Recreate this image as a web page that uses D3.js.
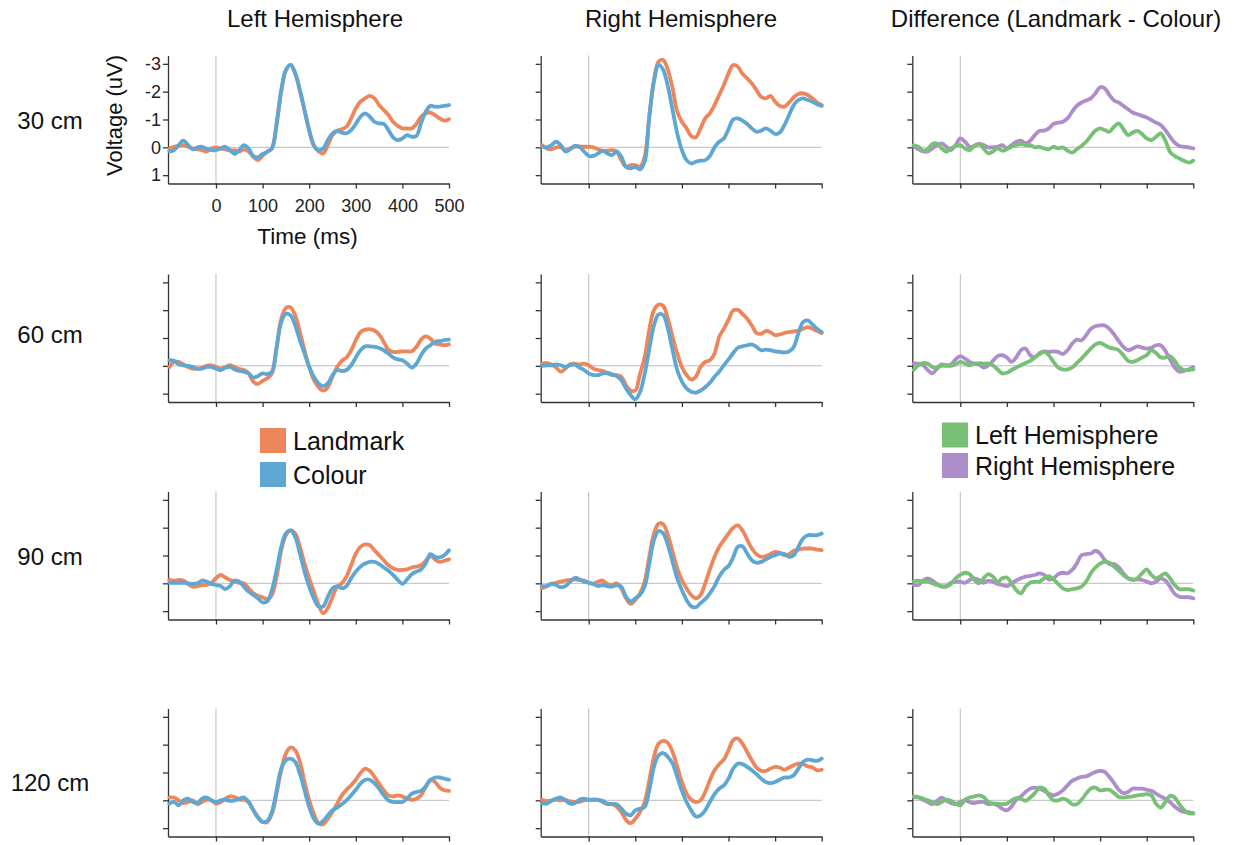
<!DOCTYPE html>
<html>
<head>
<meta charset="utf-8">
<script src="https://cdn.jsdelivr.net/npm/d3@7"></script>
<style>
  body { margin: 0; background: #fff; }
  svg { font-family: "Liberation Sans", Arial, Helvetica, sans-serif; }
</style>
</head>
<body>
<svg id="chart" width="1242" height="845"></svg>
<script>
// sample grid, ms
const times = d3.range(-100, 501, 10);
const xTicks = [0, 100, 200, 300, 400, 500];
const yTicks = [-3, -2, -1, 0, 1];
const colTitles = ["Left Hemisphere", "Right Hemisphere", "Difference (Landmark - Colour)"];
const rowLabels = ["30 cm", "60 cm", "90 cm", "120 cm"];

// 30 cm
const lmL30 = [0.04,-0.02,-0.05,-0.08,-0.02,0.04,0.07,0.1,0.15,0.04, 0,0.04,0.07,0.12,0.1,0.15,0.07,0.15,0.34,0.46,
  0.31,0.15,0.04,-0.8,-2.0,-2.76,-2.96,-2.66,-2.04,-1.32, -0.6,-0.05,0.15,0.22,-0.08,-0.44,-0.59,-0.65,-0.74,-1.04,
  -1.4,-1.64,-1.76,-1.85,-1.76,-1.52,-1.34,-1.16,-0.92,-0.77, -0.68,-0.68,-0.68,-0.84,-1.1,-1.22,-1.25,-1.16,-1.04,-0.96, -1.01];
const colL30 = [0.15,0.1,-0.08,-0.24,-0.08,0.07,0,-0.02,0.05,0.1, 0.1,0.04,-0.02,0.1,0.24,0.1,-0.08,0.04,0.31,0.36,
  0.24,0.16,0.04,-0.86,-2.06,-2.78,-2.96,-2.66,-2.06,-1.34, -0.62,-0.08,0.1,0.04,-0.26,-0.5,-0.59,-0.53,-0.5,-0.62,
  -0.84,-1.1,-1.22,-1.1,-0.92,-0.86,-0.84,-0.62,-0.36,-0.26, -0.32,-0.44,-0.38,-0.41,-0.86,-1.28,-1.49,-1.46,-1.46,-1.49, -1.52];
const lmR30 = [-0.08,0.04,0.07,0,0,0.1,0.04,-0.02,-0.02,-0.02, -0.02,0,0.07,0.12,0.12,0.1,0.15,0.46,0.7,0.64,
  0.64,0.7,0.34,-1.1,-2.42,-3.08,-3.14,-2.78,-2.12,-1.28, -0.92,-0.68,-0.41,-0.36,-0.68,-1.04,-1.22,-1.52,-1.88,-2.24,
  -2.66,-2.96,-2.9,-2.64,-2.48,-2.3,-2.06,-1.82,-1.76,-1.85, -1.64,-1.49,-1.46,-1.61,-1.8,-1.92,-1.94,-1.88,-1.76,-1.61, -1.52];
const colR30 = [-0.02,0,-0.08,-0.2,-0.08,0.15,0.07,-0.05,-0.02,0.15, 0.31,0.31,0.22,0.13,0.22,0.28,0.15,0.34,0.7,0.76,
  0.7,0.79,0.52,-1.1,-2.36,-2.96,-2.78,-2.18,-1.34,-0.5, 0.1,0.46,0.58,0.52,0.48,0.46,0.31,0,-0.2,-0.32,
  -0.65,-1.0,-1.04,-0.96,-0.84,-0.68,-0.56,-0.6,-0.68,-0.6, -0.48,-0.53,-0.8,-1.16,-1.52,-1.7,-1.76,-1.7,-1.64,-1.55, -1.49];
const difL30 = [-0.08,-0.02,0.12,0.07,-0.12,-0.14,0.04,0.15,0.04,-0.05, -0.08,0.04,0.1,-0.05,-0.12,0.04,0.22,0.15,0.04,0.12,
  0.07,-0.02,-0.08,-0.12,-0.08,-0.08,0,-0.02,0.04,0.07, -0.02,0.04,0,0.12,0.19,0.07,-0.05,-0.2,-0.41,-0.6,
  -0.68,-0.62,-0.56,-0.74,-0.86,-0.65,-0.44,-0.53,-0.59,-0.48, -0.32,-0.26,-0.38,-0.5,-0.24,0.16,0.31,0.4,0.48,0.55, 0.48];
const difR30 = [-0.05,0.07,0.15,0.15,0.04,-0.08,-0.14,-0.02,0.1,-0.08, -0.32,-0.2,-0.02,-0.05,-0.12,-0.08,0,0,-0.02,-0.08,
  0.04,-0.08,-0.2,-0.24,-0.14,-0.24,-0.44,-0.59,-0.6,-0.68, -0.84,-0.89,-0.92,-1.04,-1.28,-1.49,-1.61,-1.68,-1.76,-1.94,
  -2.16,-2.12,-1.88,-1.68,-1.61,-1.49,-1.37,-1.25,-1.19,-1.13, -1.07,-0.98,-0.89,-0.8,-0.62,-0.38,-0.17,-0.05,-0.02,0, 0.04];

// 60 cm
const lmL60 = [0.04,-0.14,-0.14,-0.05,0.04,0.1,0.1,0.06,0,-0.02, 0.04,0.1,0.04,-0.02,0.04,0.12,0.15,0.27,0.57,0.65,
  0.54,0.45,0.27,-0.62,-1.69,-2.08,-2.1,-1.81,-1.21,-0.56, 0.04,0.51,0.77,0.89,0.77,0.39,0.04,-0.18,-0.3,-0.56,
  -0.92,-1.21,-1.3,-1.32,-1.27,-1.13,-0.86,-0.58,-0.5,-0.5, -0.52,-0.52,-0.52,-0.68,-0.94,-1.06,-0.98,-0.8,-0.77,-0.74, -0.77];
const colL60 = [-0.2,-0.18,-0.06,-0.02,0,0.04,0.1,0.1,0.04,0.04, 0.1,0.15,0.07,0.04,0.13,0.18,0.21,0.27,0.42,0.37,
  0.27,0.3,0.21,-0.68,-1.57,-1.87,-1.81,-1.45,-0.92,-0.44, 0.04,0.39,0.63,0.73,0.63,0.33,0.15,0.19,0.15,-0.02,
  -0.3,-0.56,-0.7,-0.7,-0.68,-0.64,-0.56,-0.44,-0.3,-0.23, -0.2,-0.08,0.06,-0.08,-0.38,-0.62,-0.74,-0.86,-0.89,-0.92, -0.94];
const lmR60 = [-0.08,-0.1,-0.05,0.06,0.21,0.1,-0.06,-0.08,-0.05,-0.08, -0.02,0.1,0.15,0.18,0.27,0.33,0.33,0.39,0.69,0.89,
  0.89,0.3,-0.3,-1.3,-2.0,-2.2,-2.15,-1.69,-1.04,-0.44, 0.04,0.33,0.49,0.39,0.04,-0.14,-0.2,-0.44,-1.04,-1.33,
  -1.65,-1.99,-2.01,-1.87,-1.69,-1.45,-1.18,-1.15,-1.25,-1.21, -1.1,-1.13,-1.18,-1.21,-1.24,-1.27,-1.33,-1.39,-1.33,-1.25, -1.18];
const colR60 = [0,-0.02,-0.02,-0.05,-0.02,0.04,-0.02,-0.05,0.06,0.15, 0.27,0.33,0.33,0.27,0.25,0.3,0.37,0.51,0.81,1.05,
  1.2,0.95,0.3,-0.6,-1.45,-1.85,-1.82,-1.33,-0.56,0.15, 0.57,0.81,0.93,0.96,0.89,0.77,0.61,0.39,0.21,-0.02,
  -0.23,-0.46,-0.65,-0.7,-0.74,-0.77,-0.68,-0.56,-0.58,-0.56, -0.52,-0.5,-0.48,-0.52,-0.68,-1.17,-1.57,-1.63,-1.49,-1.33, -1.21];
const difL60 = [0.15,-0.02,-0.1,-0.08,0.04,0.06,0,0,0,-0.06, -0.14,-0.08,-0.02,-0.08,-0.1,-0.08,-0.08,-0.02,0.13,0.27,
  0.25,0.15,0.06,-0.02,-0.1,-0.18,-0.3,-0.42,-0.5,-0.38, -0.14,0.06,0.13,0.13,0.06,-0.1,-0.26,-0.44,-0.62,-0.77,
  -0.82,-0.74,-0.65,-0.62,-0.56,-0.38,-0.18,-0.14,-0.2,-0.3, -0.38,-0.56,-0.46,-0.3,-0.3,-0.35,-0.18,0.06,0.15,0.15, 0.13];
const difR60 = [-0.08,-0.08,-0.02,0.15,0.27,0.1,-0.05,-0.02,-0.05,-0.23, -0.35,-0.26,-0.14,-0.08,-0.05,0.06,-0.02,-0.18,-0.35,-0.38,
  -0.3,-0.14,-0.3,-0.56,-0.62,-0.38,-0.3,-0.46,-0.52,-0.5, -0.52,-0.5,-0.42,-0.56,-0.8,-0.94,-0.92,-1.1,-1.33,-1.42,
  -1.45,-1.45,-1.33,-1.13,-0.89,-0.68,-0.56,-0.62,-0.7,-0.65, -0.62,-0.65,-0.74,-0.74,-0.54,-0.23,0.06,0.21,0.18,0.13, 0.04];

// 90 cm
const lmL90 = [-0.12,-0.1,-0.12,-0.1,0.02,0.12,0.1,0.06,0.06,-0.02, -0.18,-0.3,-0.21,-0.12,-0.06,-0.02,0,0.18,0.36,0.45,
  0.5,0.57,0.42,-0.24,-1.19,-1.73,-1.9,-1.79,-1.31,-0.71, -0.18,0.3,0.77,1.07,0.89,0.48,0.12,0,-0.24,-0.65,
  -1.07,-1.31,-1.4,-1.37,-1.19,-1.01,-0.83,-0.65,-0.54,-0.48, -0.48,-0.5,-0.57,-0.6,-0.65,-0.81,-0.98,-0.86,-0.77,-0.81, -0.86];
const colL90 = [-0.02,-0.02,-0.02,-0.02,0,0.02,0,-0.1,-0.06,0.02, 0.06,0.1,0.21,0.1,-0.1,-0.06,0.12,0.3,0.42,0.54,
  0.69,0.65,0.24,-0.48,-1.31,-1.79,-1.9,-1.67,-1.07,-0.42, 0.12,0.54,0.83,0.83,0.48,0.18,0.1,0.18,0.1,-0.18,
  -0.42,-0.6,-0.71,-0.77,-0.77,-0.69,-0.57,-0.45,-0.3,-0.12, 0.02,-0.14,-0.33,-0.42,-0.5,-0.71,-1.05,-0.95,-0.93,-1.01, -1.19];
const lmR90 = [0.18,0.1,0.02,-0.02,-0.06,-0.1,-0.12,-0.14,-0.12,-0.1, -0.02,0.02,-0.06,-0.1,0.02,0.06,0,0.18,0.54,0.74,
  0.6,0.36,-0.06,-0.95,-1.79,-2.14,-2.12,-1.73,-1.13,-0.54, -0.12,0.18,0.42,0.54,0.42,0,-0.5,-0.95,-1.31,-1.55,
  -1.79,-2.0,-2.08,-1.9,-1.57,-1.25,-1.05,-0.95,-0.98,-1.05, -1.13,-1.1,-1.01,-1.05,-1.17,-1.21,-1.25,-1.25,-1.25,-1.21, -1.19];
const colR90 = [0.1,0.1,0.02,0.06,0.14,0.1,-0.06,-0.2,-0.14,-0.06, -0.02,0.02,0.1,0.06,0.1,0.12,0.06,0.12,0.48,0.65,
  0.54,0.42,0.12,-0.71,-1.55,-1.88,-1.79,-1.37,-0.77,-0.18, 0.24,0.6,0.83,0.86,0.71,0.57,0.36,0.1,-0.24,-0.48,
  -0.62,-0.93,-1.31,-1.33,-1.07,-0.83,-0.74,-0.77,-0.86,-0.95, -1.01,-1.07,-1.05,-0.95,-1.01,-1.31,-1.61,-1.73,-1.73,-1.73, -1.79];
const difL90 = [-0.06,-0.1,-0.06,-0.06,0,0.06,0.1,0.12,0.02,-0.18, -0.3,-0.38,-0.33,-0.12,0,-0.18,-0.33,-0.24,-0.06,-0.18,
  -0.21,0,0.24,0.36,0.12,-0.02,-0.06,-0.06,-0.18,-0.26, -0.14,0.02,0.18,0.24,0.21,0.18,0.12,-0.06,-0.36,-0.57,
  -0.71,-0.77,-0.74,-0.6,-0.45,-0.3,-0.18,-0.14,-0.18,-0.36, -0.5,-0.3,-0.18,-0.26,-0.36,-0.18,0.06,0.21,0.21,0.21, 0.26];
const difR90 = [0.06,0.06,-0.1,-0.18,-0.1,0.02,0.12,0.1,-0.02,-0.06, -0.06,-0.02,-0.12,-0.18,-0.12,-0.02,-0.1,-0.06,0.02,0.06,
  0.1,0,-0.1,-0.18,-0.24,-0.27,-0.3,-0.36,-0.3,-0.14, -0.18,-0.33,-0.38,-0.36,-0.48,-0.71,-1.01,-1.05,-1.07,-1.17,
  -1.07,-0.83,-0.69,-0.69,-0.57,-0.36,-0.18,-0.12,-0.14,-0.12, -0.06,0,-0.06,-0.18,-0.1,0.12,0.38,0.48,0.5,0.5, 0.54];

// 120 cm
const lmL120 = [-0.1,-0.1,0,0.1,0.06,0,0.14,0.06,-0.02,0, 0.12,0.06,-0.06,-0.14,-0.12,-0.02,-0.02,0.06,0.34,0.6,
  0.78,0.78,0.48,-0.24,-1.08,-1.68,-1.9,-1.8,-1.38,-0.66, 0,0.48,0.82,0.86,0.66,0.42,0.12,-0.18,-0.38,-0.54,
  -0.74,-0.98,-1.14,-1.06,-0.84,-0.6,-0.36,-0.18,-0.14,-0.18, -0.14,-0.06,-0.02,-0.06,-0.18,-0.48,-0.74,-0.66,-0.46,-0.36, -0.34];
const colL120 = [0.12,0.06,0.18,0,-0.06,0.06,0.1,-0.06,-0.1,0, 0.06,0,-0.02,0.02,0,-0.06,-0.1,0.06,0.36,0.62,
  0.78,0.74,0.42,-0.36,-1.14,-1.44,-1.5,-1.38,-0.96,-0.36, 0.24,0.66,0.84,0.74,0.54,0.36,0.26,0.14,0,-0.18,
  -0.38,-0.6,-0.74,-0.74,-0.62,-0.42,-0.18,0,0.06,0.06, 0.06,-0.06,-0.24,-0.3,-0.34,-0.5,-0.72,-0.82,-0.82,-0.78, -0.74];
const lmR120 = [-0.02,0.02,0,-0.02,0,-0.02,0.04,0.06,0.06,0, -0.02,-0.02,-0.02,0.06,0.14,0.14,0.22,0.42,0.7,0.82,
  0.66,0.42,0.06,-0.72,-1.56,-2.04,-2.14,-2.06,-1.74,-1.2, -0.66,-0.24,-0.02,0.06,0,-0.3,-0.72,-1.08,-1.3,-1.46,
  -1.8,-2.16,-2.22,-2.04,-1.74,-1.44,-1.18,-1.06,-1.06,-1.14, -1.2,-1.18,-1.1,-1.18,-1.26,-1.32,-1.3,-1.22,-1.18,-1.08, -1.1];
const colR120 = [0.1,0.12,0.02,-0.06,-0.1,0,0.12,0.1,-0.02,-0.06, -0.02,-0.02,-0.02,0.02,0.12,0.14,0.14,0.3,0.48,0.54,
  0.36,0.3,0.24,-0.36,-1.2,-1.62,-1.7,-1.56,-1.32,-0.84, -0.34,0.06,0.36,0.58,0.54,0.36,0.06,-0.22,-0.42,-0.54,
  -0.78,-1.14,-1.32,-1.3,-1.2,-1.08,-0.94,-0.78,-0.66,-0.62, -0.66,-0.74,-0.82,-0.82,-0.9,-1.14,-1.38,-1.46,-1.44,-1.42, -1.5];
const difL120 = [-0.14,-0.12,-0.06,0,0.06,0.14,0.06,-0.02,0.02,0.12, 0.18,-0.02,-0.1,-0.14,-0.18,-0.12,0.06,0.12,0.12,0.14,
  0.12,0,-0.08,-0.06,0.02,-0.1,-0.26,-0.46,-0.42,-0.18, 0,0,-0.06,0,0.14,0.14,-0.02,-0.24,-0.42,-0.46,
  -0.36,-0.38,-0.38,-0.26,-0.12,-0.1,-0.12,-0.14,-0.18,-0.2, -0.22,-0.18,0.12,0.26,0.06,-0.16,-0.1,0.14,0.34,0.46, 0.48];
const difR120 = [-0.12,-0.1,-0.02,0.06,0.14,0.02,-0.1,0,0.1,0.14, 0.06,0,0.06,0.1,0.06,0.06,0.14,0.12,0.18,0.3,
  0.36,0.22,-0.02,-0.14,-0.3,-0.42,-0.46,-0.42,-0.34,-0.24, -0.18,-0.24,-0.36,-0.54,-0.7,-0.78,-0.84,-0.86,-0.94,-1.02,
  -1.06,-1.02,-0.84,-0.62,-0.38,-0.26,-0.3,-0.42,-0.42,-0.42, -0.38,-0.34,-0.24,-0.14,-0.06,0.06,0.22,0.34,0.42,0.42, 0.46];

const colors = { landmark: "#ee865c", colour: "#5fa7d3", left: "#78c076", right: "#ad8dca" };

// each panel: list of [series, colour], drawn in order (later on top)
const grid = [
  [[[lmL30, colors.landmark], [colL30, colors.colour]], [[lmR30, colors.landmark], [colR30, colors.colour]], [[difR30, colors.right], [difL30, colors.left]]],
  [[[lmL60, colors.landmark], [colL60, colors.colour]], [[lmR60, colors.landmark], [colR60, colors.colour]], [[difR60, colors.right], [difL60, colors.left]]],
  [[[lmL90, colors.landmark], [colL90, colors.colour]], [[lmR90, colors.landmark], [colR90, colors.colour]], [[difR90, colors.right], [difL90, colors.left]]],
  [[[lmL120, colors.landmark], [colL120, colors.colour]], [[lmR120, colors.landmark], [colR120, colors.colour]], [[difR120, colors.right], [difL120, colors.left]]]
];

const svg = d3.select("#chart");
const colX = [168, 540.7, 912.3];
const rowY = [55.5, 274, 491.5, 708.5];
const W = 281, H = 128;
const titleX = [315, 681, 1056];
const rowLabelY = [128.5, 342.5, 564.5, 790.5];

const x = d3.scaleLinear().domain([-103, 500]).range([0, W]);
const y = d3.scaleLinear().domain([-3.3, 1.3]).range([0, H]);

const line = d3.line()
  .x((d, i) => x(times[i]))
  .y(d => y(d))
  .curve(d3.curveCatmullRom.alpha(0.5));

// column titles
svg.selectAll(".col-title")
  .data(colTitles)
  .enter().append("text")
  .attr("class", "col-title")
  .attr("x", (d, i) => titleX[i])
  .attr("y", 27)
  .attr("text-anchor", "middle")
  .attr("font-size", 24)
  .attr("fill", "#111")
  .text(d => d);

// row labels
svg.selectAll(".row-label")
  .data(rowLabels)
  .enter().append("text")
  .attr("class", "row-label")
  .attr("x", 50)
  .attr("y", (d, i) => rowLabelY[i])
  .attr("text-anchor", "middle")
  .attr("font-size", 24)
  .attr("fill", "#111")
  .text(d => d);

grid.forEach((row, r) => {
  row.forEach((panel, c) => {
    const g = svg.append("g").attr("transform", `translate(${colX[c]},${rowY[r]})`);
    const first = r === 0 && c === 0;

    // reference lines
    g.append("line")
      .attr("x1", 0).attr("x2", W)
      .attr("y1", y(0)).attr("y2", y(0))
      .attr("stroke", "#bdbdbd").attr("stroke-width", 1);
    g.append("line")
      .attr("x1", x(0)).attr("x2", x(0))
      .attr("y1", 0).attr("y2", H)
      .attr("stroke", "#bdbdbd").attr("stroke-width", 1);

    const yAxis = g.append("g")
      .call(d3.axisLeft(y).tickValues(yTicks).tickSize(5).tickSizeOuter(0).tickPadding(2)
        .tickFormat(first ? d3.format("d") : () => ""));
    const xAxis = g.append("g")
      .attr("transform", `translate(0,${H})`)
      .call(d3.axisBottom(x).tickValues(xTicks).tickSize(5).tickSizeOuter(0).tickPadding(11)
        .tickFormat(first ? d3.format("d") : () => ""));

    [yAxis, xAxis].forEach(a => {
      a.select(".domain").attr("stroke", "#333").attr("stroke-width", 1.3);
      a.selectAll(".tick line").attr("stroke", "#333").attr("stroke-width", 1.3);
      a.selectAll(".tick text")
        .attr("font-size", 18)
        .attr("fill", "#222")
        .attr("font-family", "Liberation Sans, Arial, sans-serif");
    });
    // plain hyphen minus like the original
    yAxis.selectAll(".tick text").text(d => first ? String(d) : "");

    panel.forEach(([vals, col]) => {
      g.append("path")
        .datum(vals)
        .attr("fill", "none")
        .attr("stroke", col)
        .attr("stroke-width", 3.8)
        .attr("stroke-linejoin", "round")
        .attr("stroke-linecap", "round")
        .attr("d", line);
    });

    if (first) {
      g.append("text")
        .attr("transform", `translate(-46,${H / 2 - 4}) rotate(-90)`)
        .attr("text-anchor", "middle")
        .attr("font-size", 22)
        .attr("fill", "#111")
        .text("Voltage (uV)");
      g.append("text")
        .attr("x", W / 2 - 1)
        .attr("y", H + 60)
        .attr("text-anchor", "middle")
        .attr("font-size", 22.5)
        .attr("fill", "#111")
        .text("Time (ms)");
    }
  });
});

// legends
const legend1 = [["Landmark", colors.landmark], ["Colour", colors.colour]];
const legend2 = [["Left Hemisphere", colors.left], ["Right Hemisphere", colors.right]];

function drawLegend(items, lx, ly, step) {
  const lg = svg.append("g").attr("transform", `translate(${lx},${ly})`);
  const it = lg.selectAll("g").data(items).enter().append("g")
    .attr("transform", (d, i) => `translate(0,${i * step})`);
  it.append("rect")
    .attr("width", 26).attr("height", 25)
    .attr("fill", d => d[1]);
  it.append("text")
    .attr("x", 33).attr("y", 21.5)
    .attr("font-size", 25)
    .attr("fill", "#111")
    .text(d => d[0]);
}
drawLegend(legend1, 260, 428, 34);
drawLegend(legend2, 942, 422.5, 30.5);
</script>
</body>
</html>
